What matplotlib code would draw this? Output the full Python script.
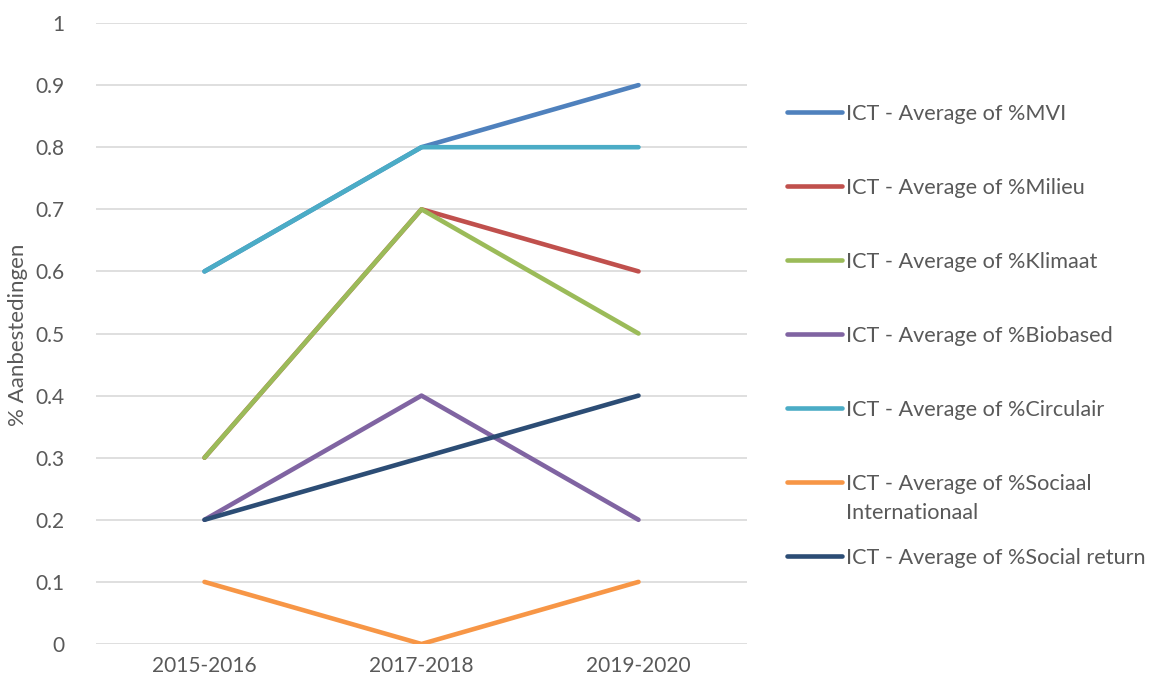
import matplotlib.pyplot as plt
from matplotlib.lines import Line2D

#====== Datos ======
periodos = ["2015-2016", "2017-2018", "2019-2020"]

mvi = [0.6, 0.8, 0.9]
milieu = [0.3, 0.7, 0.6]
klimaat = [0.3, 0.7, 0.5]
biobased = [0.2, 0.4, 0.2]
circulair = [0.6, 0.8, 0.8]
sociaal_int = [0.1, 0.0, 0.1]
social_return = [0.2, 0.3, 0.4]

etiquetas = [
    "ICT - Average of %MVI",
    "ICT - Average of %Milieu",
    "ICT - Average of %Klimaat",
    "ICT - Average of %Biobased",
    "ICT - Average of %Circulair",
    "ICT - Average of %Sociaal\nInternationaal",
    "ICT - Average of %Social return",
]
series = [mvi, milieu, klimaat, biobased, circulair, sociaal_int, social_return]
colores = ["#4F81BD", "#C0504D", "#9BBB59", "#8064A2", "#4BACC6", "#F79646", "#2C4D75"]

yticks = [0, 0.1, 0.2, 0.3, 0.4, 0.5, 0.6, 0.7, 0.8, 0.9, 1]
ytick_labels = ["0", "0.1", "0.2", "0.3", "0.4", "0.5", "0.6", "0.7", "0.8", "0.9", "1"]

#====== Figura ======
plt.rcParams["font.family"] = ["Lato", "DejaVu Sans"]
gris = "#595959"

W, H = 1149, 684
fig = plt.figure(figsize=(W / 100, H / 100), dpi=100)
ax = fig.add_axes([96 / W, 1 - 644 / H, (747 - 96) / W, (644 - 23) / H])

x = list(range(len(periodos)))
for valores, color in zip(series, colores):
    ax.plot(x, valores, color=color, linewidth=3.3, solid_capstyle="round",
            solid_joinstyle="round", zorder=3)

ax.set_xlim(-0.5, len(periodos) - 0.5)
ax.set_ylim(0, 1)
ax.set_xticks(x)
ax.set_xticklabels(periodos)
ax.set_yticks(yticks)
ax.set_yticklabels(ytick_labels)
ax.tick_params(axis="both", length=0, labelsize=15, colors=gris)
ax.tick_params(axis="y", pad=23)
ax.tick_params(axis="x", pad=9)
ax.grid(axis="y", color="#D9D9D9", linewidth=1.2)
ax.set_axisbelow(True)
for s in ax.spines.values():
    s.set_visible(False)

fig.text(18 / W, 1 - 335 / H, "% Aanbestedingen", rotation=90, ha="center",
         va="center", fontsize=16, color=gris)

# Leyenda manual (Excel alinea el trazo con la primera linea)
for i, (etq, color) in enumerate(zip(etiquetas, colores)):
    y_px = 112 + 74 * i
    fig.add_artist(Line2D([787 / W, 842 / W], [1 - y_px / H, 1 - y_px / H],
                          color=color, linewidth=3.3, solid_capstyle="round",
                          transform=fig.transFigure))
    fig.text(846 / W, 1 - (y_px - 8) / H, etq, ha="left", va="top",
             fontsize=15.6, color=gris, linespacing=1.55)

fig.savefig("out.png", dpi=100)
